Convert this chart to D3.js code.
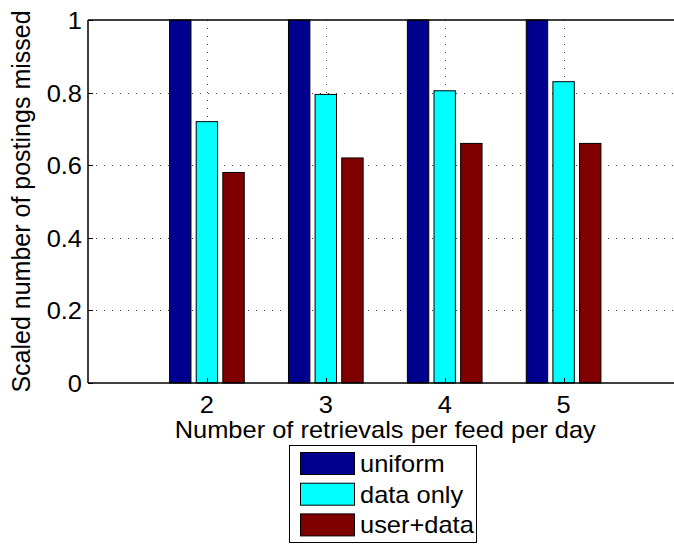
<!DOCTYPE html>
<html>
<head>
<meta charset="utf-8">
<script src="https://cdn.jsdelivr.net/npm/d3@7"></script>
<style>
body { margin: 0; background: #fff; }
text { font-family: "Liberation Sans", Arial, sans-serif; fill: #000; }
</style>
</head>
<body>
<div id="chart"></div>
<script>
var categories = [2, 3, 4, 5]
var seriesNames = ["uniform", "data only", "user+data"]
var uniform = [1, 1, 1, 1]
var dataOnly = [0.72, 0.795, 0.805, 0.83]
var userData = [0.58, 0.62, 0.66, 0.66]
var yTicks = [0, 0.2, 0.4, 0.6, 0.8, 1]
var barColors = ["#00008f", "#00ffff", "#800000"]

var width = 674, height = 545
var plotLeft = 88, plotTop = 20, plotBottom = 383
var stretch = 1.06  // text in the picture is a bit wide

var svg = d3.select("#chart").append("svg")
  .attr("width", width)
  .attr("height", height)

var x = d3.scaleLinear().domain([1, 6]).range([plotLeft, plotLeft + 5 * 118.9])
var y = d3.scaleLinear().domain([0, 1]).range([plotBottom, plotTop])

function place(px, py){
  return "translate(" + px + "," + py + ") scale(" + stretch + ",1)"
}

// grid
var grid = svg.append("g")
  .attr("stroke", "#444")
  .attr("stroke-width", 1)
  .attr("stroke-dasharray", "1,7")
grid.selectAll(".gy")
  .data(yTicks.filter(function(d){ return d > 0 && d < 1 }))
  .enter().append("line")
  .attr("x1", plotLeft).attr("x2", x(6))
  .attr("y1", function(d){ return Math.round(y(d)) + 0.5 })
  .attr("y2", function(d){ return Math.round(y(d)) + 0.5 })
grid.selectAll(".gx")
  .data(categories)
  .enter().append("line")
  .attr("x1", function(d){ return Math.round(x(d)) + 0.5 })
  .attr("x2", function(d){ return Math.round(x(d)) + 0.5 })
  .attr("y1", plotTop).attr("y2", plotBottom)

// bars
var series = [uniform, dataOnly, userData]
var offset = 0.224, barW = 0.18
series.forEach(function(vals, s){
  svg.append("g").selectAll("rect")
    .data(vals)
    .enter().append("rect")
    .attr("x", function(d, i){ return x(categories[i] + (s - 1) * offset - barW / 2) })
    .attr("width", x(1 + barW) - x(1))
    .attr("y", function(d){ return y(d) })
    .attr("height", function(d){ return y(0) - y(d) })
    .attr("fill", barColors[s])
    .attr("stroke", "#000")
    .attr("stroke-width", 1)
})

// axes box
var axis = svg.append("g").attr("stroke", "#000").attr("stroke-width", 1.5)
axis.append("line").attr("x1", plotLeft).attr("x2", x(6)).attr("y1", plotTop).attr("y2", plotTop)
axis.append("line").attr("x1", plotLeft).attr("x2", x(6)).attr("y1", plotBottom).attr("y2", plotBottom)
axis.append("line").attr("x1", plotLeft).attr("x2", plotLeft).attr("y1", plotTop).attr("y2", plotBottom)

// ticks
svg.append("g").attr("stroke", "#000").selectAll("line")
  .data(yTicks)
  .enter().append("line")
  .attr("x1", plotLeft).attr("x2", plotLeft + 5)
  .attr("y1", function(d){ return Math.round(y(d)) + 0.5 })
  .attr("y2", function(d){ return Math.round(y(d)) + 0.5 })
svg.append("g").attr("stroke", "#000").selectAll("line")
  .data(categories)
  .enter().append("line")
  .attr("x1", function(d){ return Math.round(x(d)) + 0.5 })
  .attr("x2", function(d){ return Math.round(x(d)) + 0.5 })
  .attr("y1", plotBottom).attr("y2", plotBottom - 5)

svg.append("g").selectAll("text")
  .data(yTicks)
  .enter().append("text")
  .attr("transform", function(d){ return place(plotLeft - 6, y(d) + 9) })
  .attr("text-anchor", "end")
  .style("font-size", "24px")
  .text(function(d){ return d3.format("")(d) })

svg.append("g").selectAll("text")
  .data(categories)
  .enter().append("text")
  .attr("transform", function(d){ return place(x(d), 413) })
  .attr("text-anchor", "middle")
  .style("font-size", "24px")
  .text(function(d){ return d })

svg.append("text")
  .attr("transform", place((x(1) + x(6)) / 2, 438))
  .attr("text-anchor", "middle")
  .style("font-size", "24px")
  .text("Number of retrievals per feed per day")

svg.append("text")
  .attr("transform", "translate(30," + (plotTop + plotBottom) / 2 + ") rotate(-90)")
  .attr("text-anchor", "middle")
  .style("font-size", "25px")
  .text("Scaled number of postings missed")

// legend
var legend = svg.append("g")
legend.append("rect")
  .attr("x", 289.5).attr("y", 445.5)
  .attr("width", 187).attr("height", 97)
  .attr("fill", "#fff").attr("stroke", "#000")
var item = legend.selectAll(".item")
  .data(seriesNames)
  .enter().append("g")
  .attr("transform", function(d, i){ return "translate(0," + (i * 30.7) + ")" })
item.append("rect")
  .attr("x", 300.5).attr("y", 452.5)
  .attr("width", 54).attr("height", 22)
  .attr("fill", function(d, i){ return barColors[i] })
  .attr("stroke", "#000")
item.append("text")
  .attr("transform", place(360, 472))
  .style("font-size", "24px")
  .text(function(d){ return d })
</script>
</body>
</html>
